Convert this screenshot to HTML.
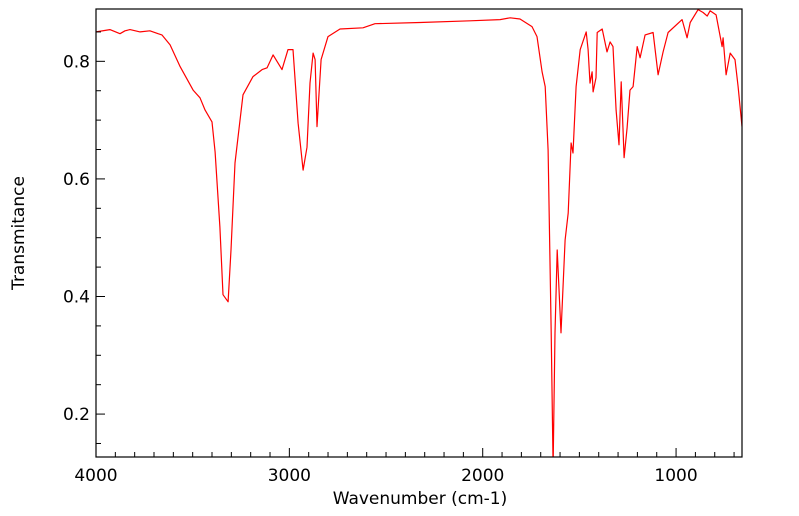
<!DOCTYPE html>
<html><head><meta charset="utf-8"><style>
html,body{margin:0;padding:0;background:#fff;}
svg{display:block;font-family:"DejaVu Sans","Liberation Sans",sans-serif;}
</style></head><body>
<svg id="chart" width="799" height="516" viewBox="0 0 799 516"></svg>
<script>
const wavenumbers=[4000,3928,3876,3850,3824,3772,3721,3679,3659,3617,3565,3498,3462,3436,3400,3384,3359,3343,3317,3302,3281,3240,3188,3141,3115,3084,3038,3007,2981,2955,2929,2909,2893,2877,2867,2857,2836,2800,2738,2619,2557,2324,2065,1910,1858,1807,1745,1719,1693,1677,1662,1646,1636,1626,1615,1595,1574,1558,1543,1533,1517,1496,1465,1455,1445,1434,1429,1414,1408,1382,1357,1341,1326,1310,1295,1284,1269,1253,1238,1222,1201,1186,1160,1119,1093,1067,1041,969,943,927,886,860,839,824,793,762,757,741,720,695,679,659];
const transmittance=[0.850,0.854,0.847,0.852,0.854,0.850,0.852,0.847,0.845,0.828,0.791,0.751,0.738,0.717,0.697,0.646,0.518,0.403,0.391,0.479,0.627,0.743,0.774,0.786,0.789,0.811,0.786,0.820,0.820,0.695,0.615,0.654,0.763,0.814,0.803,0.689,0.803,0.842,0.855,0.857,0.864,0.866,0.869,0.871,0.874,0.872,0.859,0.842,0.782,0.757,0.649,0.338,0.110,0.338,0.479,0.338,0.496,0.542,0.661,0.644,0.757,0.820,0.850,0.820,0.763,0.782,0.748,0.772,0.849,0.855,0.816,0.833,0.825,0.717,0.658,0.765,0.636,0.687,0.751,0.757,0.825,0.806,0.845,0.849,0.777,0.816,0.849,0.871,0.840,0.866,0.888,0.883,0.877,0.886,0.879,0.825,0.840,0.777,0.814,0.803,0.757,0.689];
const xTicks=[4000,3000,2000,1000];
const xTickLabels=["4000","3000","2000","1000"];
const yTicks=[0.2,0.4,0.6,0.8];
const yTickLabels=["0.2","0.4","0.6","0.8"];

const L=96,R=742,T=9,B=457;
const xMax=4000,xMin=659,yMin=0.127,yMax=0.889;
const sx=w=>L+(xMax-w)/(xMax-xMin)*(R-L);
const sy=v=>B-(v-yMin)/(yMax-yMin)*(B-T);
const NS="http://www.w3.org/2000/svg";
const svg=document.getElementById('chart');
function mk(tag,attrs,parent){const e=document.createElementNS(NS,tag);for(const k in attrs)e.setAttribute(k,attrs[k]);(parent||svg).appendChild(e);return e;}

const defs=mk('defs',{});
const cp=mk('clipPath',{id:'clip'},defs);
mk('rect',{x:L,y:T,width:R-L,height:B-T},cp);

let d='';
for(let i=0;i<wavenumbers.length;i++){d+=(i?'L':'M')+sx(wavenumbers[i]).toFixed(1)+','+sy(transmittance[i]).toFixed(1);}
const line=mk('path',{d:d,fill:'none',stroke:'#ff0000','stroke-width':1.2,'stroke-linejoin':'round','clip-path':'url(#clip)'});



const frame=mk('rect',{x:L,y:T,width:R-L,height:B-T,fill:'none',stroke:'#000','stroke-width':1.2});



for(let w=4000;w>=xMin;w-=100){
  const x=sx(w);const major=(w%1000===0);
  const t=mk('line',{x1:x,x2:x,y1:B,y2:B-(major?9:5),stroke:'#000','stroke-width':1});
  
  
}
xTicks.forEach((w,i)=>{
  const t=mk('text',{x:sx(w),y:B+24,'text-anchor':'middle','font-size':17,fill:'#000'});
  t.textContent=xTickLabels[i];
  
  
});
for(let k=3;k<=17;k++){
  const v=k*0.05;if(v<yMin||v>yMax)continue;
  const y=sy(v);const major=(k%4===0);
  const t=mk('line',{x1:L,x2:L+(major?9:5),y1:y,y2:y,stroke:'#000','stroke-width':1});
  
  
}
yTicks.forEach((v,i)=>{
  const t=mk('text',{x:L-6,y:sy(v)+6,'text-anchor':'end','font-size':17,fill:'#000'});
  t.textContent=yTickLabels[i];
  
  
});
const xt=mk('text',{x:420,y:504,'text-anchor':'middle','font-size':17,fill:'#000'});
xt.textContent='Wavenumber (cm-1)';


const yt=mk('text',{x:0,y:0,'text-anchor':'middle','font-size':17,fill:'#000',transform:'translate(24,233) rotate(-90)'});
yt.textContent='Transmitance';


</script>
</body></html>
